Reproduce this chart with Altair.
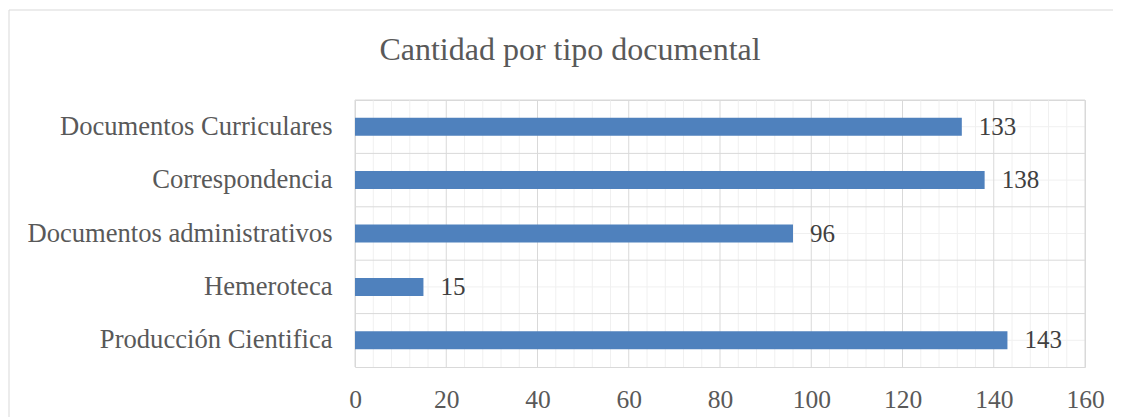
import altair as alt
import pandas as pd

categories = ["Documentos Curriculares", "Correspondencia", "Documentos administrativos",
              "Hemeroteca", "Producción Cientifica"]
values = [133, 138, 96, 15, 143]
major_ticks = [0, 20, 40, 60, 80, 100, 120, 140, 160]
minor_ticks = [v for v in range(0, 161, 4) if v % 20 != 0]
title_text = "Cantidad por tipo documental"

FONT = "Liberation Serif"
TXT = "#595959"
W, H = 730, 267

df = pd.DataFrame({"cat": categories, "val": values})
minor_df = pd.DataFrame({"t": minor_ticks})
major_df = pd.DataFrame({"t": major_ticks})

yscale = alt.Scale(domain=categories, paddingInner=0, paddingOuter=0)
xscale = alt.Scale(domain=[0, 160], nice=False)
yaxis = alt.Axis(ticks=False, domain=False, grid=False, labelPadding=23, title=None,
                 labelFontSize=26.6, labelFont=FONT, labelColor=TXT, labelLimit=400)
xaxis = alt.Axis(values=major_ticks, ticks=False, domain=False, grid=False, title=None,
                 labelFlush=False, labelPadding=20, labelFontSize=25.5, labelFont=FONT,
                 labelColor=TXT)

frame = alt.Chart(pd.DataFrame({"a": [0]})).mark_rect(
    filled=False, stroke="#d9d9d9", strokeWidth=1
).encode(x=alt.value(-346), x2=alt.value(761), y=alt.value(-90), y2=alt.value(340))

title = alt.Chart(pd.DataFrame({"txt": [title_text]})).mark_text(
    align="center", baseline="alphabetic", fontSize=32, font=FONT, color=TXT
).encode(x=alt.value(215), y=alt.value(-40), text="txt:N")

vminor = alt.Chart(minor_df).mark_rule(color="#f0f0f0", strokeWidth=1).encode(
    x=alt.X("t:Q", scale=xscale, axis=xaxis))
hminor = alt.Chart(df).mark_rule(color="#f0f0f0", strokeWidth=1).encode(
    y=alt.Y("cat:N", scale=yscale, sort=categories, axis=yaxis))
vmajor = alt.Chart(major_df).mark_rule(color="#d9d9d9", strokeWidth=1).encode(
    x=alt.X("t:Q", scale=xscale, axis=xaxis))
hmajor = alt.Chart(df).mark_rule(color="#d9d9d9", strokeWidth=1).encode(
    y=alt.Y("cat:N", scale=yscale, sort=categories, bandPosition=0, axis=yaxis))

base = alt.Chart(df).encode(
    y=alt.Y("cat:N", scale=yscale, sort=categories, axis=yaxis),
    x=alt.X("val:Q", scale=xscale, axis=xaxis),
)
bars = base.mark_bar(size=18, color="#4F81BD")
labels = base.mark_text(align="left", baseline="middle", dx=17, fontSize=25,
                        font=FONT, color="#404040").encode(text="val:Q")

chart = alt.layer(frame, title, vminor, hminor, vmajor, hmajor, bars, labels).properties(
    width=W, height=H,
    autosize=alt.AutoSizeParams(type="none"),
    padding={"left": 347, "top": 92, "right": 28, "bottom": 50},
).configure_view(stroke="#d9d9d9", strokeWidth=1)

chart.save("out.html", embed_options={"renderer": "svg", "actions": False})
